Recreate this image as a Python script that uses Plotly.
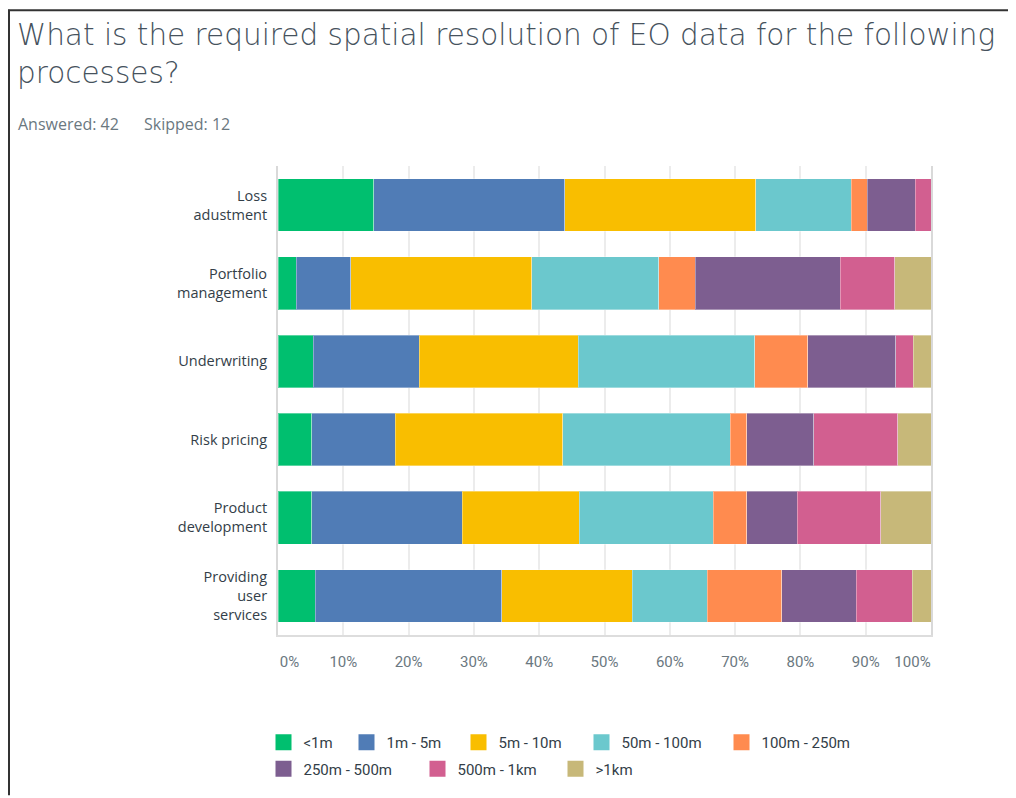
import plotly.graph_objects as go

# ---------------- data ----------------
categories = [
    "Loss<br>adustment",
    "Portfolio<br>management",
    "Underwriting",
    "Risk pricing",
    "Product<br>development",
    "Providing<br>user<br>services",
]
series_names = ["<1m", "1m - 5m", "5m - 10m", "50m - 100m",
                "100m - 250m", "250m - 500m", "500m - 1km", ">1km"]

# percent of respondents per process (same order as categories)
lt_1m      = [14.63, 2.78, 5.41, 5.13, 5.13, 5.71]
m1_5m      = [29.27, 8.33, 16.22, 12.82, 23.08, 28.57]
m5_10m     = [29.27, 27.78, 24.32, 25.64, 17.95, 20.00]
m50_100m   = [14.63, 19.44, 27.03, 25.64, 20.51, 11.43]
m100_250m  = [2.44, 5.56, 8.11, 2.56, 5.13, 11.43]
m250_500m  = [7.32, 22.22, 13.51, 10.26, 7.69, 11.43]
m500m_1km  = [2.44, 8.33, 2.70, 12.82, 12.82, 8.57]
gt_1km     = [0.00, 5.56, 2.70, 5.13, 7.69, 2.86]
series_values = [lt_1m, m1_5m, m5_10m, m50_100m, m100_250m,
                 m250_500m, m500m_1km, gt_1km]

tick_values = [0, 10, 20, 30, 40, 50, 60, 70, 80, 90, 100]
tick_labels = ["0%", "10%", "20%", "30%", "40%", "50%", "60%",
               "70%", "80%", "90%", "100%"]

title_text = "What is the required spatial resolution of EO data for the following<br>processes?"
answered_text = "Answered: 42"
skipped_text = "Skipped: 12"

# ---------------- style ----------------
colors = ["#00BF6F", "#507CB6", "#F9BE00", "#6BC8CD",
          "#FF8B4F", "#7D5E90", "#D25F90", "#C7B879"]

# legend swatch placement (page pixels): left edge and row centre
legend_left_px = [276, 359, 471, 594, 734, 276, 430, 568]
legend_row_px = [745, 745, 745, 745, 745, 771.5, 771.5, 771.5]

OFF = 8                      # page body margin
W, H = 1016 - OFF, 798 - OFF
ML, MR, MT, MB = 270, 85, 158, 161
PW = W - ML - MR
PH = H - MT - MB


def px_x(page_x):
    return (page_x - OFF - ML) / PW


def px_y(page_y):
    return (H - MB - (page_y - OFF)) / PH


# end labels are nudged inwards like the original
label_pos = list(tick_values)
label_pos[0] = tick_values[0] + 11.5 / PW * 100
label_pos[-1] = tick_values[-1] - 18.5 / PW * 100

fig = go.Figure()
for name, vals, col in zip(series_names, series_values, colors):
    fig.add_trace(go.Bar(
        y=categories, x=vals, name=name, orientation="h",
        marker=dict(color=col, line=dict(color="rgba(255,255,255,0.35)", width=1)),
        showlegend=False,
        hovertemplate="%{x:.2f}%<extra>" + name + "</extra>",
    ))

label_font = dict(family="Roboto", size=15, color="#6b787f")
legend_font = dict(family="Roboto", size=15, color="#333e48")
sub_font = dict(family="Open Sans", size=16, color="#6b787f")

# legend entries: one small legend per entry so spacing matches the original
legend_layouts = {}
for i, (name, col) in enumerate(zip(series_names, colors)):
    key = "legend" if i == 0 else "legend%d" % (i + 1)
    fig.add_trace(go.Scatter(
        x=[None], y=[None], xaxis="x2", mode="markers", name=name,
        marker=dict(symbol="square", size=16, color=col),
        legend=key, hoverinfo="skip",
    ))
    legend_layouts[key] = dict(
        orientation="h", traceorder="normal",
        x=px_x(legend_left_px[i] - 12.5), xanchor="left",
        y=px_y(legend_row_px[i]), yanchor="middle", font=legend_font,
        bgcolor="rgba(0,0,0,0)", itemclick=False, itemdoubleclick=False,
    )

fig.update_layout(
    width=W, height=H,
    margin=dict(l=ML, r=MR, t=MT, b=MB, pad=0),
    paper_bgcolor="white", plot_bgcolor="white",
    barmode="stack", bargap=0.325,
    xaxis=dict(
        range=[0, 100], tickvals=tick_values, showticklabels=False,
        showgrid=True, gridcolor="#ececec", gridwidth=1.5,
        zeroline=False, showline=True, linecolor="#dddddd", linewidth=2,
        ticks="", fixedrange=True,
    ),
    xaxis2=dict(
        overlaying="x", anchor="y", side="bottom", range=[0, 100],
        tickvals=label_pos, ticktext=tick_labels, tickfont=label_font,
        showgrid=False, zeroline=False, showline=False,
        ticks="outside", ticklen=13, tickcolor="rgba(0,0,0,0)",
        fixedrange=True,
    ),
    yaxis=dict(
        autorange="reversed", showgrid=False, zeroline=False,
        showline=True, linecolor="#d9d9d9", linewidth=2, mirror=True,
        ticks="outside", ticklen=6, tickcolor="rgba(0,0,0,0)",
        tickfont=dict(family="Open Sans", size=14.5, color="#333e48"),
        fixedrange=True,
    ),
    annotations=[
        dict(text=title_text, xref="paper", yref="paper",
             x=px_x(15), y=px_y(15), xanchor="left", yanchor="top",
             align="left", showarrow=False,
             font=dict(family="DejaVu Sans", size=29.5, weight=200, color="#46525d")),
        dict(text=answered_text, xref="paper", yref="paper",
             x=px_x(16), y=px_y(124), xanchor="left", yanchor="middle",
             showarrow=False, font=sub_font),
        dict(text=skipped_text, xref="paper", yref="paper",
             x=px_x(142), y=px_y(124), xanchor="left", yanchor="middle",
             showarrow=False, font=sub_font),
    ],
    shapes=[
        dict(type="line", xref="paper", yref="paper",
             x0=px_x(8), x1=px_x(1016), y0=px_y(9.5), y1=px_y(9.5),
             line=dict(color="#333333", width=2)),
        dict(type="line", xref="paper", yref="paper",
             x0=px_x(9), x1=px_x(9), y0=px_y(9), y1=px_y(798),
             line=dict(color="#333333", width=2)),
    ],
    showlegend=True,
    **legend_layouts,
)

fig.write_html("out.html", config={"displayModeBar": False})
